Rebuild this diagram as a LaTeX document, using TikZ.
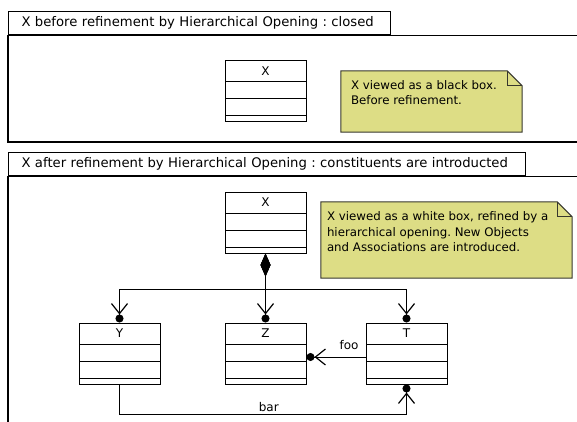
\documentclass[tikz,border=0pt]{standalone}
\usepackage{fontspec}
\setmainfont{DejaVu Sans}
\usetikzlibrary{arrows.meta,positioning}
\definecolor{noteFill}{RGB}{221,221,133}
\definecolor{noteLine}{RGB}{55,55,45}
\frenchspacing

\begin{document}
\begin{tikzpicture}[x=1pt,y=1pt]
\tikzstyle{frameTab}=[draw,line width=1.1pt,anchor=north west,minimum height=23pt,inner xsep=13pt,inner ysep=0pt,align=left,font=\fontsize{13.2}{15}\selectfont]
\tikzstyle{frameBody}=[draw,line width=1.1pt]
\tikzstyle{cls}=[draw,line width=1pt,fill=white,minimum width=81pt,inner sep=0pt,text height=14.5pt,text depth=46.5pt,font=\fontsize{12}{14}\selectfont,
  path picture={\foreach \d in {21,38,55}
    \draw[line width=1pt] ([yshift=-\d pt]path picture bounding box.north west) -- ([yshift=-\d pt]path picture bounding box.north east);}]
\tikzstyle{noteArea}=[rectangle,inner sep=0pt]
\tikzstyle{noteShape}=[fill=noteFill,draw=noteLine,line width=1pt]
\tikzstyle{noteText}=[anchor=north west,inner sep=2pt,align=left,font=\fontsize{11.8}{15.5}\selectfont]
\tikzstyle{assoc}=[line width=1pt]
\tikzstyle{owned}=[-{Straight Barb[length=10pt,width=16pt,line width=1.2pt,sep=0pt] Circle[length=8pt]}]
\tikzstyle{composite}=[{Diamond[length=23pt,width=10pt]}-{Straight Barb[length=10pt,width=16pt,line width=1.2pt,sep=0pt] Circle[length=8pt]}]
\tikzstyle{roleLabel}=[font=\fontsize{12}{14}\selectfont]

\useasboundingbox (0,0) rectangle (577,-422);

% before refinement
\node[frameTab,text width=356pt] (tabA) at (8,-11) {X before refinement by Hierarchical Opening : closed};
\draw[frameBody] (tabA.south west) rectangle (582,-142);

\node[cls] (Xa) at (265.5,-91.5) {X};

\node[noteArea,minimum width=181pt,minimum height=61pt] (noteA) at (431.5,-101.5) {};
\draw[noteShape] (noteA.north west) -- ([xshift=-15pt]noteA.north east) -- ([yshift=-15pt]noteA.north east)
  -- (noteA.south east) -- (noteA.south west) -- cycle;
\draw[noteShape,fill=none] ([xshift=-15pt]noteA.north east) |- ([yshift=-15pt]noteA.north east);
\node[noteText] (noteAtxt) at ([xshift=8pt,yshift=-7.5pt]noteA.north west) {X viewed as a black box.\\Before refinement.};

% after refinement
\node[frameTab,text width=491pt] (tabB) at (8,-152) {X after refinement by Hierarchical Opening : constituents are introducted};
\draw[frameBody] (tabB.south west) rectangle (582,-430);

\node[cls] (Xb) at (265.5,-222.5) {X};
\node[cls] (Y) at (119.5,-353.5) {Y};
\node[cls] (Z) at (265.5,-353.5) {Z};
\node[cls] (T) at (406.5,-353.5) {T};

\node[noteArea,minimum width=251pt,minimum height=76pt] (noteB) at (446.5,-240) {};
\draw[noteShape] (noteB.north west) -- ([xshift=-15pt]noteB.north east) -- ([yshift=-15pt]noteB.north east)
  -- (noteB.south east) -- (noteB.south west) -- cycle;
\draw[noteShape,fill=none] ([xshift=-15pt]noteB.north east) |- ([yshift=-15pt]noteB.north east);
\node[noteText] (noteBtxt) at ([xshift=4pt,yshift=-8pt]noteB.north west) {X viewed as a white box, refined by a\\hierarchical opening. New Objects\\and Associations are introduced.};

%compositions
\draw[assoc,composite] (Xb.south) -- ++(0,-36) -| (Y.north);
\draw[assoc,composite] (Xb.south) -- (Z.north);
\draw[assoc,composite] (Xb.south) -- ++(0,-36) -| (T.north);

%associations
\draw[assoc,owned] ([yshift=-3.5pt]T.west) -- node[pos=0.28,above=4pt,roleLabel] {foo} ([yshift=-3.5pt]Z.east);
\draw[assoc,owned] (Y.south) -- ++(0,-30) -| node[pos=0.26,above=-1pt,roleLabel] {bar} (T.south);

\end{tikzpicture}
\end{document}
